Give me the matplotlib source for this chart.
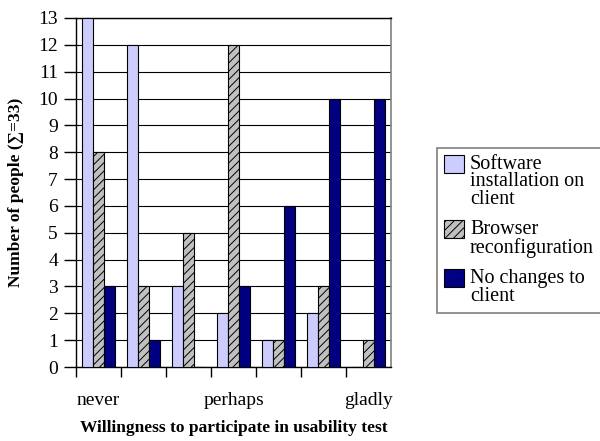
import numpy as np
import matplotlib
matplotlib.use('Agg')
import matplotlib.pyplot as plt

plt.rcParams['font.family'] = ['Liberation Serif', 'DejaVu Serif']
plt.rcParams['hatch.linewidth'] = 0.7

# datos: disposicion a participar (escala de 7 puntos)
grupos = ['never', '', '', 'perhaps', '', '', 'gladly']
software = [13, 12, 3, 2, 1, 2, 0]
browser = [8, 3, 5, 12, 1, 3, 1]
sin_cambios = [3, 1, 0, 3, 6, 10, 10]

series = ['Software\ninstallation on\nclient', 'Browser\nreconfiguration', 'No changes to\nclient']
colores = ['#CCCCFF', '#C0C0C0', '#000080']
tramas = [None, '////', None]

fig = plt.figure(figsize=(6, 4.41), dpi=100)
ax = fig.add_axes([0.1267, 0.1678, 0.525, 0.7914])

x = np.arange(len(grupos))
w = 0.244
for k, (vals, lab, c, h) in enumerate(zip([software, browser, sin_cambios], series, colores, tramas)):
    ax.bar(x + (k - 1) * w, vals, w, color=c, edgecolor='black', linewidth=0.8,
           hatch=h, label=lab, zorder=3)

ax.set_xlim(-0.5, 6.5)
ax.set_ylim(0, 13)
ax.set_yticks(range(0, 14))
ax.yaxis.grid(True, color='black', linewidth=0.8, zorder=0)
ax.set_axisbelow(True)

# ticks entre categorias, etiquetas centradas
ax.set_xticks(np.arange(-0.5, 6.0, 1.0))
ax.set_xticklabels([])
ax.set_xticks(x, minor=True)
ax.set_xticklabels(grupos, minor=True, fontsize=14)
ax.tick_params(axis='x', which='minor', length=0, pad=18)
ax.tick_params(axis='x', which='major', length=7, width=1, direction='out')
ax.tick_params(axis='y', length=9, width=1, direction='out', labelsize=14, pad=4)

for s in ['left', 'top', 'bottom']:
    ax.spines[s].set_color('black')
    ax.spines[s].set_linewidth(1)
ax.spines['right'].set_color('#808080')
ax.spines['right'].set_linewidth(1.2)

ax.set_xlabel('Willingness to participate in usability test', fontsize=12.5,
              fontweight='bold', labelpad=8)
ax.set_ylabel('Number of people (\u2211=33)', fontsize=12.5, fontweight='bold', labelpad=10)

leg = fig.legend(loc='lower left', bbox_to_anchor=(0.728, 0.290), fontsize=14.5,
                 frameon=True, fancybox=False, edgecolor='#606060', borderpad=0.35,
                 handlelength=1.0, handleheight=1.0, handletextpad=0.3, labelspacing=0.55,
                 borderaxespad=0)
leg.get_frame().set_linewidth(1.2)
for t in leg.get_texts():
    t.set_linespacing(0.92)

# cuadrito alineado con la primera linea del texto
try:
    for col in leg._legend_handle_box.get_children():
        for fila in col.get_children():
            fila.align = 'top'
except AttributeError:
    pass

fig.savefig('out.png', dpi=100)
